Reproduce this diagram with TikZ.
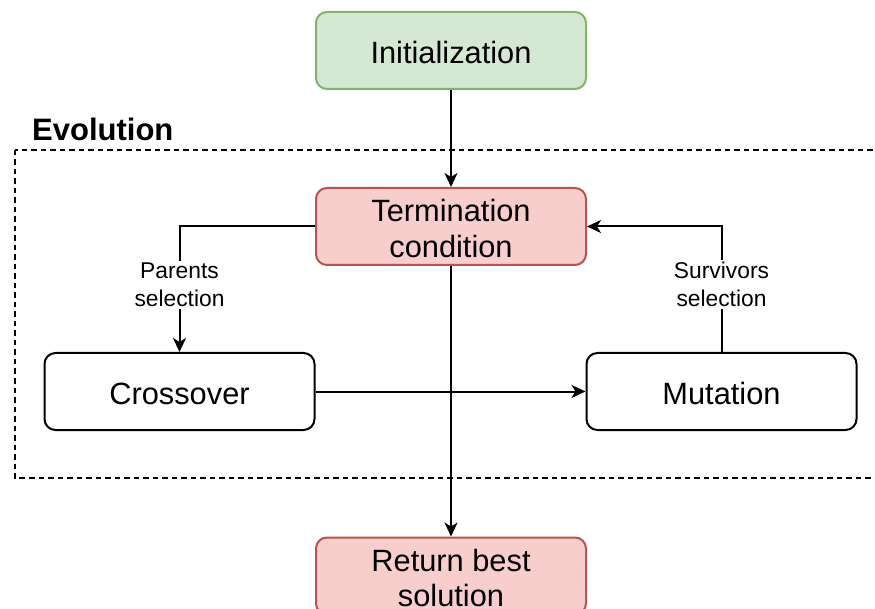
\documentclass[tikz,border=0pt]{standalone}
\usepackage{fontspec}
\setmainfont{Liberation Sans}
\usetikzlibrary{arrows.meta}

\definecolor{greenfill}{HTML}{D5E8D4}
\definecolor{greenline}{HTML}{82B366}
\definecolor{redfill}{HTML}{F8CECC}
\definecolor{redline}{HTML}{B85450}

\tikzset{
  box/.style={draw, line width=2pt, rounded corners=11pt,
    minimum width=270pt, minimum height=77pt, inner sep=0pt},
  boxtext/.style={align=center, inner sep=0pt, yshift=-2pt,
    font=\fontsize{30.8}{35.5}\selectfont},
  greenbox/.style={box, fill=greenfill, draw=greenline},
  redbox/.style={box, fill=redfill, draw=redline},
  plainbox/.style={box, fill=white, draw=black},
  link/.style={line width=2pt, -{Stealth[length=14pt,width=13pt,inset=4pt]}},
  edgelabel/.style={fill=white, align=center, inner sep=2pt,
    font=\fontsize{22.8}{28}\selectfont},
  region/.style={line width=1.5pt, dash pattern=on 5.5pt off 4pt},
}

\begin{document}
\begin{tikzpicture}[x=1pt, y=-1pt]
  \useasboundingbox (0,0) rectangle (875,609);
  \clip (0,0) rectangle (875,609);

  % evolution loop region
  \draw[region] (15,150) rectangle (890,478);
  \node[anchor=base west, font=\bfseries\fontsize{31}{36}\selectfont, inner sep=0pt]
    (evotitle) at (32,141) {Evolution};

  % process steps
  \node[greenbox, label={[boxtext]center:Initialization}] (init) at (451,50.5) {};
  \node[redbox, label={[boxtext]center:{Termination\\condition}}] (term) at (451,226.5) {};
  \node[plainbox, label={[boxtext]center:Crossover}] (cross) at (179.5,391.5) {};
  \node[plainbox, label={[boxtext]center:Mutation}] (mut) at (721.5,391.5) {};
  \node[redbox, label={[boxtext]center:{Return best\\solution}}] (ret) at (451,576) {};

  % connectors
  \draw[link] (init) -- (term);
  \draw[link] (term.west) -| (cross.north)
    node[edgelabel, pos=0.732] (parlab) {Parents\\selection};
  \draw[link] (mut.north) |- (term.east)
    node[edgelabel, pos=0.27] (survlab) {Survivors\\selection};
  \draw[link] (cross) -- (mut);
  \draw[link] (term) -- (ret);
\end{tikzpicture}
\end{document}
